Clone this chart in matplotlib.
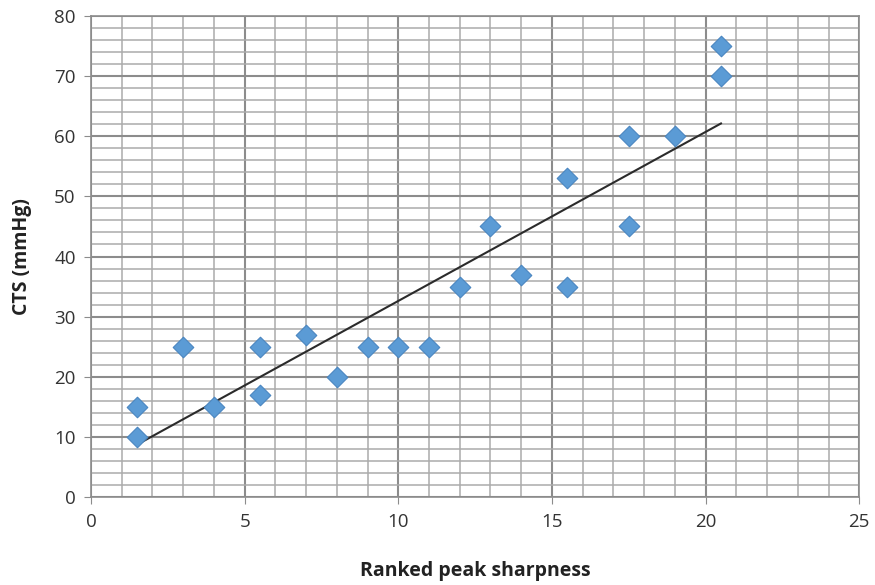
import numpy as np
from matplotlib import pyplot as plt
from matplotlib.ticker import MultipleLocator

# ranked peak sharpness vs CTS
rank = [1.5, 1.5, 3, 4, 5.5, 5.5, 7, 8, 9, 10, 11, 12, 13, 14,
        15.5, 15.5, 17.5, 17.5, 19, 20.5, 20.5]
cts = [15, 10, 25, 15, 25, 17, 27, 20, 25, 25, 25, 35, 45, 37,
       53, 35, 60, 45, 60, 75, 70]

plt.rcParams['font.family'] = ['Open Sans', 'DejaVu Sans']

fig = plt.figure(figsize=(8.75, 5.85), dpi=100)
ax = fig.add_axes([0.104, 0.150, 0.878, 0.823])

ax.set_xlim(0, 25)
ax.set_ylim(0, 80)
ax.xaxis.set_major_locator(MultipleLocator(5))
ax.xaxis.set_minor_locator(MultipleLocator(1))
ax.yaxis.set_major_locator(MultipleLocator(10))
ax.yaxis.set_minor_locator(MultipleLocator(2))
ax.grid(which='major', color='#8c8c8c', linewidth=1.5)
ax.grid(which='minor', color='#ababab', linewidth=1.1)
ax.set_axisbelow(True)
for s in ax.spines.values():
    s.set_color('#8c8c8c')
    s.set_linewidth(1.2)
ax.tick_params(which='major', length=5, color='#8c8c8c', labelsize=13.5,
               labelcolor='#333333', pad=6)
ax.tick_params(which='minor', length=0)

# linear trend line across the data range
k, b = np.polyfit(rank, cts, 1)
xs = np.array([min(rank), max(rank)])
ax.plot(xs, k * xs + b, color='#2b2b2b', linewidth=1.5, zorder=3)

ax.scatter(rank, cts, marker='D', s=110, color='#5b9bd5',
           edgecolors='#4a86c0', linewidths=0.8, zorder=4)

ax.set_xlabel('Ranked peak sharpness', fontsize=14, fontweight='bold',
              color='#222222', labelpad=22)
ax.set_ylabel('CTS (mmHg)', fontsize=14, fontweight='bold',
              color='#222222', labelpad=16)

fig.savefig('out.png', dpi=100)
